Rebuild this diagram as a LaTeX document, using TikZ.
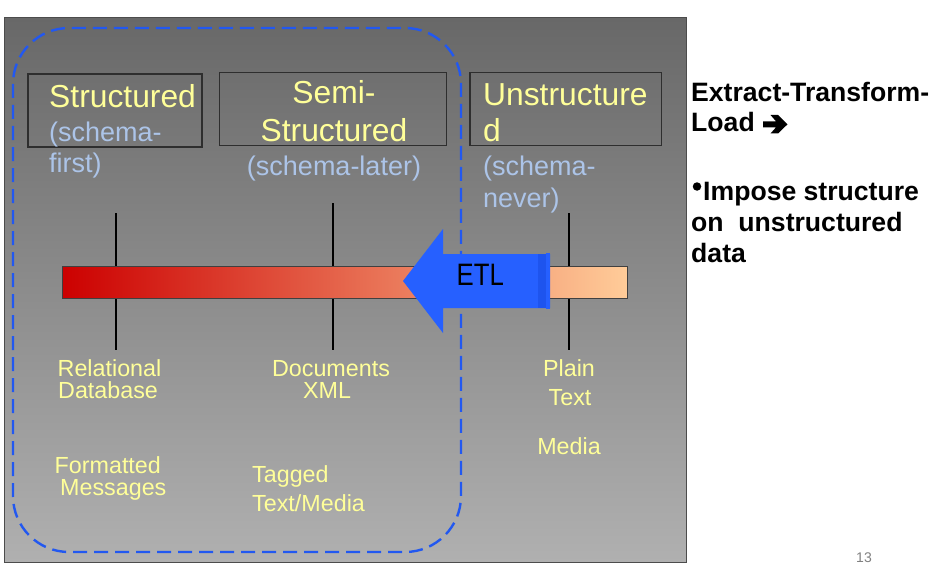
\documentclass[tikz,border=0pt]{standalone}
\usepackage{fontspec}
\usepackage{graphicx}
\setmainfont{Liberation Sans}
\definecolor{ylw}{RGB}{255,255,153}
\definecolor{schm}{RGB}{172,196,232}
\definecolor{etlblue}{RGB}{38,96,255}
\definecolor{etlstrip}{RGB}{30,84,238}
\definecolor{dashblue}{RGB}{34,88,240}
\definecolor{bgtop}{RGB}{104,104,104}
\definecolor{bgbot}{RGB}{176,176,176}
\definecolor{barleft}{RGB}{204,0,0}
\definecolor{barright}{RGB}{255,204,153}
\begin{document}
\begin{tikzpicture}[x=1pt,y=-1pt,
  big/.style={inner sep=0pt, anchor=base west, text=ylw, font=\fontsize{31.8}{31.8}\selectfont},
  schem/.style={inner sep=0pt, anchor=base west, text=schm, font=\fontsize{27}{27}\selectfont},
  lbl/.style={inner sep=0pt, anchor=base west, text=ylw, font=\fontsize{23.3}{23.3}\selectfont},
  catbox/.style={draw=black!82, line width=1.2pt},
  tickline/.style={line width=1.4pt, black},
  side/.style={inner sep=0pt, anchor=base west, font=\bfseries\fontsize{26.6}{26.6}\selectfont}
]
\useasboundingbox (0,0) rectangle (939,567);
\fill[white] (0,0) rectangle (939,567);
% panel
\path[top color=bgtop, bottom color=bgbot] (4,18) rectangle (686,562);
\draw[black!70, line width=1pt] (4,18) rectangle (686,562);
% dashed group
\draw[dashblue, line width=2.4pt, dash pattern=on 14pt off 7pt, rounded corners=56pt] (13,28) rectangle (461,552);
% ticks
\coordinate (t1a) at (116,213); \coordinate (t1b) at (116,350);
\coordinate (t2a) at (333,203); \coordinate (t2b) at (333,350);
\coordinate (t3a) at (569,213); \coordinate (t3b) at (569,350);
\draw[tickline] (t1a) -- (t1b);
\draw[tickline] (t2a) -- (t2b);
\draw[tickline] (t3a) -- (t3b);
% bar
\path[left color=barleft, right color=barright] (62,266) rectangle (627,298);
\draw[black!75, line width=0.9pt] (62,266) rectangle (627,298);
% ETL arrow
\fill[etlblue] (403,281) -- (443,229) -- (443,254) -- (550,254) -- (550,308) -- (443,308) -- (443,333) -- cycle;
\fill[etlstrip] (538,254) rectangle (546,308);
\fill[etlblue] (546,253) rectangle (550,309);
\node (etl) [inner sep=0pt, anchor=base west, font=\fontsize{31}{31}\selectfont] at (456.5,285.7) {\scalebox{0.83}[1]{ETL}};
% category boxes
\draw[catbox] (28,74) rectangle (202,147);
\draw[catbox] (219.5,72.5) rectangle (446.7,145.5);
\draw[catbox] (470,72.7) rectangle (661.7,145.7);
\node (s1) [big] at (49,107.5) {Structured};
\node (s2) [schem] at (49,142) {(schema-};
\node (s3) [schem] at (49,172) {first)};
\node (m1) [big, anchor=base] at (334,104) {Semi-};
\node (m2) [big, anchor=base] at (334,142) {Structured};
\node (m3) [schem, anchor=base] at (334,175.5) {(schema-later)};
\node (u1) [big] at (483,105.7) {Unstructure};
\node (u2) [big] at (483,141.7) {d};
\node (u3) [schem] at (483,175.5) {(schema-};
\node (u4) [schem] at (483,207) {never)};
% examples
\node (r1) [lbl] at (57.5,376.7) {Relational};
\node (r2) [lbl] at (58,398.7) {Database};
\node (d1) [lbl, anchor=base] at (331,376.7) {Documents};
\node (d2) [lbl, anchor=base] at (327,398.7) {XML};
\node (p1) [lbl, anchor=base] at (569,376.7) {Plain};
\node (p2) [lbl, anchor=base] at (570,405.7) {Text};
\node (p3) [lbl, anchor=base] at (569,454) {Media};
\node (f1) [lbl] at (54.5,473) {Formatted};
\node (f2) [lbl] at (60,495) {Messages};
\node (g1) [lbl] at (252,482.5) {Tagged};
\node (g2) [lbl] at (252,511.5) {Text/Media};
% side text
\node (x1) [side] at (691,102) {Extract-Transform-};
\node (x2) [side] at (691,131.7) {Load};
\fill[black] (763,121.3) -- (776,121.3) -- (770.5,115) -- (778,115) -- (787.5,124.3) -- (778,133.5) -- (770.5,133.5) -- (776,127.3) -- (763,127.3) -- cycle;
\node (bul) [circle, fill=black, inner sep=0pt, minimum size=8.5pt] at (697,186.5) {};
\node (x3) [side] at (703,200) {Impose structure};
\node (x4) [side] at (691,231) {on\ \ unstructured};
\node (x5) [side] at (691,262) {data};
% page number
\node (pg) [inner sep=0pt, anchor=base, text=black!50, font=\fontsize{14}{14}\selectfont] at (864,562) {13};
\end{tikzpicture}
\end{document}
